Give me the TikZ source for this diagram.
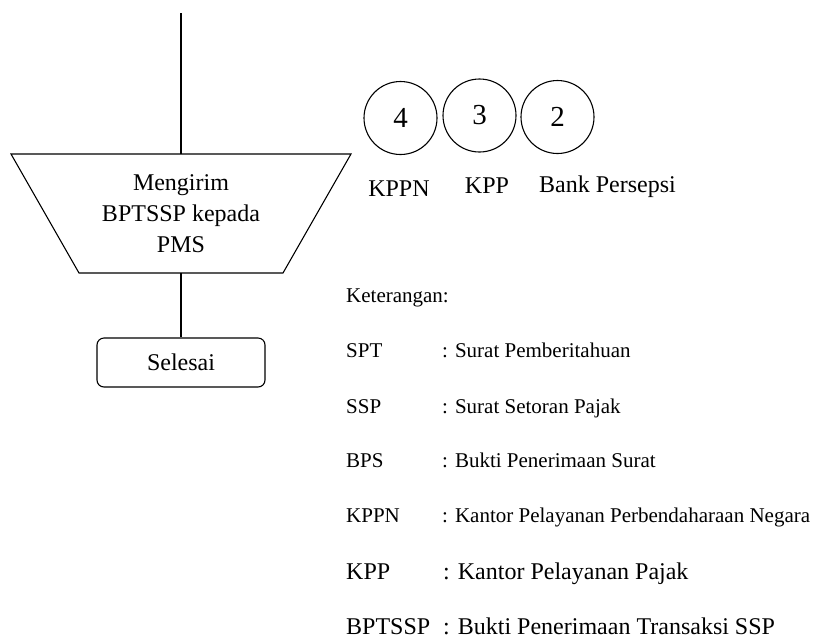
\documentclass[tikz,border=0pt]{standalone}
\usepackage{fontspec}
\setmainfont{Liberation Serif}
\tikzset{
  flowline/.style={line width=1.1pt, line join=miter},
  endbox/.style={draw, line width=1.1pt, rounded corners=7pt, minimum width=168pt, minimum height=49pt, inner sep=0pt, font=\fontsize{24}{28}\selectfont},
  bubble/.style={draw, circle, line width=1.1pt, minimum size=73pt, inner sep=0pt, font=\fontsize{29}{32}\selectfont},
  caption/.style={inner sep=0pt, anchor=base, font=\fontsize{24}{28}\selectfont},
  legtext/.style={inner sep=0pt, anchor=base west, font=\fontsize{21}{25}\selectfont},
  legbig/.style={inner sep=0pt, anchor=base west, font=\fontsize{24}{28}\selectfont}
}
\begin{document}
\begin{tikzpicture}[x=1pt, y=-1pt]
\useasboundingbox (0,0) rectangle (816,641);

% incoming flow line and the manual-operation trapezoid
\coordinate (in) at (181,13);
\coordinate (tzTL) at (11,154);
\coordinate (tzTR) at (351,154);
\coordinate (tzBR) at (283,273);
\coordinate (tzBL) at (79,273);
\coordinate (tzT) at (181,154);
\coordinate (tzB) at (181,273);
\draw[flowline] (tzTL) -- (tzTR) -- (tzBR) -- (tzBL) -- cycle;
\node[align=center, inner sep=0pt, font=\fontsize{24}{31}\selectfont] (tz) at (181,214) {Mengirim\\BPTSSP kepada\\PMS};
\draw[flowline] (in) -- (tzT);

% terminator
\node[endbox] (end) at (181,362.5) {Selesai};
\draw[flowline] (tzB) -- (end.north);

% off-page connectors
\node[bubble] (c4) at (400.5,118) {4};
\node[bubble] (c3) at (479.5,115.5) {3};
\node[bubble] (c2) at (557.5,117) {2};
\node[caption] (l4) at (399,196) {KPPN};
\node[caption] (l3) at (487,193) {KPP};
\node[caption] (l2) at (607.5,192) {Bank Persepsi};

% legend
\node[legtext] (ket) at (346,302) {Keterangan:};
\node[legtext] (a1) at (346,357) {SPT};
\node[legtext] (d1) at (442,357) {: Surat Pemberitahuan};
\node[legtext] (a2) at (346,413) {SSP};
\node[legtext] (d2) at (442,413) {: Surat Setoran Pajak};
\node[legtext] (a3) at (346,467) {BPS};
\node[legtext] (d3) at (442,467) {: Bukti Penerimaan Surat};
\node[legtext] (a4) at (346,522) {KPPN};
\node[legtext] (d4) at (442,522) {: Kantor Pelayanan Perbendaharaan Negara};
\node[legbig] (a5) at (346,579) {KPP};
\node[legbig] (d5) at (443,579) {: Kantor Pelayanan Pajak};
\node[legbig] (a6) at (346,634) {BPTSSP};
\node[legbig] (d6) at (443,634) {: Bukti Penerimaan Transaksi SSP};
\end{tikzpicture}
\end{document}
